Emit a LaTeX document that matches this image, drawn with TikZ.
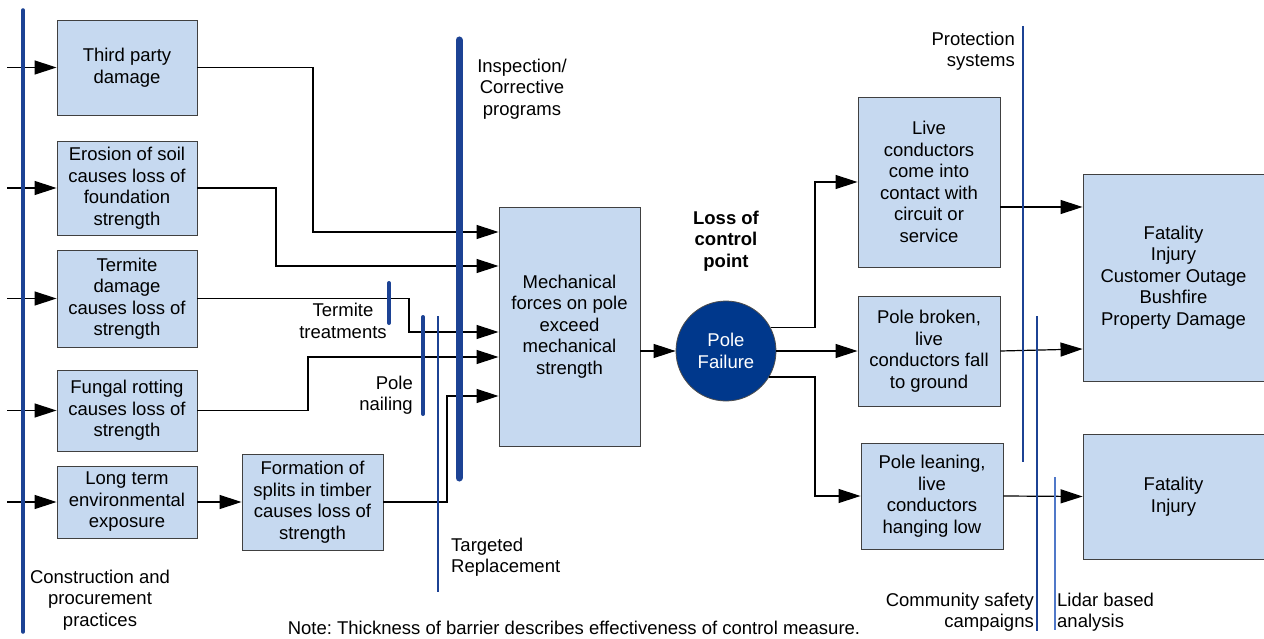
\documentclass[tikz,border=0pt]{standalone}
\usepackage{fontspec}
\setmainfont{Liberation Sans}
\usetikzlibrary{arrows.meta}
\definecolor{boxfill}{RGB}{198,217,240}
\definecolor{barblue}{RGB}{28,66,148}
\definecolor{lightbar}{RGB}{80,120,200}
\definecolor{circblue}{RGB}{0,56,140}
\frenchspacing
\begin{document}
\begin{tikzpicture}[x=1pt,y=-1pt,
  font=\fontsize{18.5}{21.5}\selectfont,
  box/.style={draw=black!75, line width=0.9pt, fill=boxfill, align=center, inner sep=0pt},
  conn/.style={line width=1.2pt, draw=black},
  arr/.style={conn, -{Triangle[length=22pt,width=14pt]}},
  bar/.style={draw=barblue, line cap=round},
  lbl/.style={align=center, inner sep=0pt}]
\useasboundingbox (0,0) rectangle (1264,639);

% boxes
\node[box, minimum width=140, minimum height=95] (tp) at (127,67.5) {Third party\\damage};
\node[box, minimum width=140, minimum height=94] (er) at (127,188) {Erosion of soil\\causes loss of\\foundation\\strength};
\node[box, minimum width=140, minimum height=97] (te) at (127,298.5) {Termite\\damage\\causes loss of\\strength};
\node[box, minimum width=140, minimum height=81] (fu) at (127,410.5) {Fungal rotting\\causes loss of\\strength};
\node[box, minimum width=140, minimum height=72] (lt) at (127,502) {Long term\\environmental\\exposure};
\node[box, minimum width=141, minimum height=96] (fs) at (312.5,502) {Formation of\\splits in timber\\causes loss of\\strength};
\node[box, minimum width=141, minimum height=239] (mech) at (569.5,326.5) {Mechanical\\forces on pole\\exceed\\mechanical\\strength};
\node[circle, draw=black!70, line width=0.8pt, fill=circblue, text=white, minimum size=100, inner sep=0pt, align=center] (pf) at (726,351) {Pole\\Failure};
\node[box, minimum width=142, minimum height=170] (live) at (929,182) {Live\\conductors\\come into\\contact with\\circuit or\\service};
\node[box, minimum width=142, minimum height=110] (brk) at (929,351) {Pole broken,\\live\\conductors fall\\to ground};
\node[box, minimum width=142, minimum height=106] (lean) at (932,496) {Pole leaning,\\live\\conductors\\hanging low};
\node[box, minimum width=181, minimum height=207] (fat1) at (1173.5,277.5) {Fatality\\Injury\\Customer Outage\\Bushfire\\Property Damage};
\node[box, minimum width=181, minimum height=125] (fat2) at (1173.5,496.5) {Fatality\\Injury};

% input arrows
\coordinate (i1) at (7,67.5);
\coordinate (i2) at (7,188);
\coordinate (i3) at (7,298.5);
\coordinate (i4) at (7,410.5);
\coordinate (i5) at (7,502);
\draw[arr] (i1) -- (tp.west);
\draw[arr] (i2) -- (er.west);
\draw[arr] (i3) -- (te.west);
\draw[arr] (i4) -- (fu.west);
\draw[arr] (i5) -- (lt.west);

% connectors to mechanical
\draw[arr] (tp.east) -| (313,232) -- (mech.west |- 0,232);
\draw[arr] (er.east) -| (276,266) -- (mech.west |- 0,266);
\draw[arr] (te.east) -| (409,332) -- (mech.west |- 0,332);
\draw[arr] (fu.east) -| (308,357) -- (mech.west |- 0,357);
\draw[arr] (lt.east) -- (fs.west);
\draw[arr] (fs.east) -| (447,396) -- (mech.west |- 0,396);
\draw[arr] (mech.east |- pf.west) -- (pf.west);

% from pole failure
\draw[arr] (pf.28.7) -| (815,182) -- (live.west);
\draw[arr] (pf.east) -- (brk.west);
\draw[arr] (pf.-31.3) -| (815,496) -- (lean.west);

% to consequences
\draw[arr] (live.east |- 0,207) -- (fat1.west |- 0,207);
\draw[arr] (brk.east) -- (fat1.west |- 0,349);
\draw[arr] (lean.east) -- (fat2.west);

% barriers
\draw[bar, line width=3.5pt] (23,10) -- (23,632);
\draw[bar, line width=7pt] (459,40) -- (459,478);
\draw[bar, line width=4pt] (389,283) -- (389,323);
\draw[bar, line width=4pt] (423,317) -- (423,414);
\draw[bar, line width=2pt, line cap=butt] (438,316) -- (438,592);
\draw[bar, line width=1.8pt, line cap=butt] (1023,26) -- (1023,462);
\draw[bar, line width=1.2pt, line cap=butt] (1037,316) -- (1037,631);
\draw[draw=lightbar, line width=1.3pt] (1055,477) -- (1055,630);

% labels
\node[lbl] (l1) at (522,89) {Inspection/\\Corrective\\programs};
\node[lbl] (l2) at (343,321) {Termite\\treatments};
\node[lbl, align=right, anchor=east] (l3) at (413,395) {Pole\\nailing};
\node[lbl, align=left, anchor=west] (l4) at (451,557) {Targeted\\Replacement};
\node[lbl] (l5) at (100,600) {Construction and\\procurement\\practices};
\node[lbl] (l6) at (574,628) {Note: Thickness of barrier describes effectiveness of control measure.};
\node[lbl, font=\fontsize{18.5}{21.5}\selectfont\bfseries] (l7) at (726,241) {Loss of\\control\\point};
\node[lbl, align=right, anchor=east] (l8) at (1015,51) {Protection\\systems};
\node[lbl, align=right, anchor=east] (l9) at (1034,612) {Community safety\\campaigns};
\node[lbl, align=left, anchor=west] (l10) at (1057,612) {Lidar based\\analysis};
\end{tikzpicture}
\end{document}
